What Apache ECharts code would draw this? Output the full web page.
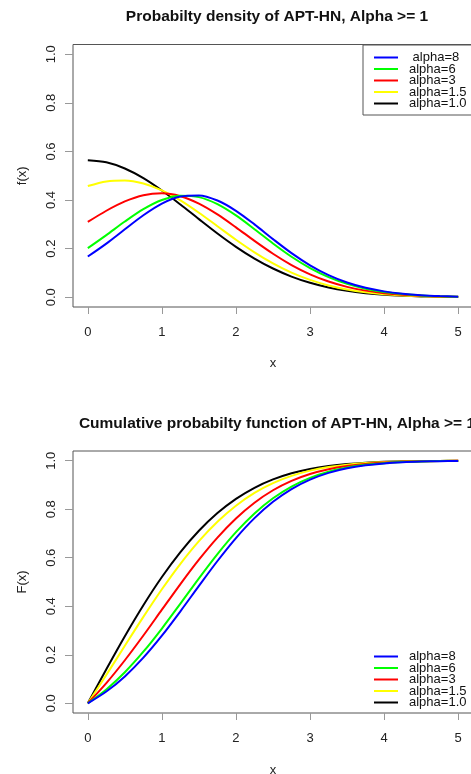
<!DOCTYPE html>
<html>
<head>
<meta charset="utf-8">
<script src="https://cdn.jsdelivr.net/npm/echarts@6/dist/echarts.min.js"></script>
<style>
html,body{margin:0;padding:0;background:#fff;}
#chart{width:471px;height:774px;}
</style>
</head>
<body>
<div id="chart"></div>
<script>
// x grid
var xs = [0,0.25,0.5,0.75,1,1.25,1.5,1.75,2,2.25,2.5,2.75,3,3.25,3.5,3.75,4,4.25,4.5,4.75,5];
var xTicks = [0,1,2,3,4,5];
var yTicks = [0,0.2,0.4,0.6,0.8,1.0];

// density f(x)
var pdf8  = [0.1676,0.2209,0.2797,0.3374,0.3853,0.4144,0.4190,0.3980,0.3557,0.2998,0.2394,0.1817,0.1317,0.0914,0.0610,0.0392,0.0243,0.0146,0.0085,0.0048,0.0026];
var pdf6  = [0.2022,0.2559,0.3116,0.3624,0.4001,0.4179,0.4120,0.3831,0.3367,0.2802,0.2215,0.1669,0.1203,0.0832,0.0554,0.0355,0.0220,0.0132,0.0077,0.0043,0.0023];
var pdf3  = [0.3099,0.3560,0.3944,0.4198,0.4276,0.4159,0.3857,0.3411,0.2878,0.2320,0.1791,0.1326,0.0944,0.0648,0.0429,0.0274,0.0169,0.0101,0.0059,0.0033,0.0018];
var pdf15 = [0.4575,0.4768,0.4808,0.4683,0.4400,0.3986,0.3478,0.2924,0.2369,0.1850,0.1394,0.1014,0.0714,0.0485,0.0319,0.0203,0.0125,0.0075,0.0043,0.0024,0.0013];
var pdf1  = [0.5642,0.5554,0.5300,0.4902,0.4394,0.3818,0.3215,0.2624,0.2076,0.1591,0.1183,0.0852,0.0595,0.0402,0.0264,0.0168,0.0103,0.0062,0.0036,0.0020,0.0011];

// cumulative F(x)
var cdf8  = [0,0.0484,0.1109,0.1882,0.2788,0.3792,0.4840,0.5866,0.6812,0.7633,0.8307,0.8832,0.9222,0.9499,0.9688,0.9811,0.9889,0.9937,0.9965,0.9982,0.9990];
var cdf6  = [0,0.0572,0.1281,0.2126,0.3082,0.4110,0.5152,0.6150,0.7053,0.7825,0.8452,0.8936,0.9293,0.9546,0.9717,0.9829,0.9900,0.9943,0.9969,0.9983,0.9991];
var cdf3  = [0,0.0833,0.1774,0.2794,0.3858,0.4916,0.5921,0.6832,0.7619,0.8269,0.8782,0.9170,0.9452,0.9649,0.9782,0.9869,0.9923,0.9956,0.9976,0.9987,0.9993];
var cdf15 = [0,0.1171,0.2371,0.3561,0.4699,0.5750,0.6685,0.7485,0.8146,0.8673,0.9077,0.9376,0.9591,0.9739,0.9838,0.9903,0.9943,0.9968,0.9982,0.9991,0.9995];
var cdf1  = [0,0.1403,0.2763,0.4041,0.5205,0.6232,0.7112,0.7841,0.8427,0.8884,0.9229,0.9482,0.9661,0.9784,0.9867,0.9920,0.9953,0.9974,0.9985,0.9992,0.9996];

var topNames = [' alpha=8','alpha=6','alpha=3','alpha=1.5','alpha=1.0'];
var botNames = ['alpha=8','alpha=6','alpha=3','alpha=1.5','alpha=1.0'];
var colors = ['#0000FF','#00FF00','#FF0000','#FFFF00','#000000'];
var pdfs = [pdf8,pdf6,pdf3,pdf15,pdf1];
var cdfs = [cdf8,cdf6,cdf3,cdf15,cdf1];

function pairs(ys){ return xs.map(function(x,i){return [x,ys[i]];}); }

var FONT = 'Liberation Sans, Arial, sans-serif';
var chart = echarts.init(document.getElementById('chart'), null, {renderer:'canvas'});

function xAxisDef(gi, gap){
  return {
    type:'value', gridIndex:gi, min:-0.2, max:5.2,
    name:'x', nameLocation:'middle', nameGap:gap,
    nameTextStyle:{color:'#222', fontSize:13, fontFamily:FONT},
    axisLine:{show:false, onZero:false},
    splitLine:{show:false},
    axisTick:{show:true, inside:false, length:7, lineStyle:{color:'#999'}, customValues:xTicks},
    axisLabel:{color:'#222', fontSize:13, fontFamily:FONT, margin:19, customValues:xTicks,
      formatter:function(v){return String(v);}}
  };
}
function yAxisDef(gi, nm){
  return {
    type:'value', gridIndex:gi, min:-0.04, max:1.04,
    name:nm, nameLocation:'middle', nameGap:44, nameRotate:90,
    nameTextStyle:{color:'#222', fontSize:13, fontFamily:FONT},
    axisLine:{show:false, onZero:false},
    splitLine:{show:false},
    axisTick:{show:true, inside:false, length:8, lineStyle:{color:'#999'}, customValues:yTicks},
    axisLabel:{color:'#222', fontSize:13, fontFamily:FONT, margin:15, rotate:90, customValues:yTicks,
      formatter:function(v){return v.toFixed(1);}}
  };
}

var series = [];
for (var i=0;i<5;i++){
  series.push({type:'line', name:topNames[i], xAxisIndex:0, yAxisIndex:0, data:pairs(pdfs[i]),
    showSymbol:false, smooth:0.3, lineStyle:{color:colors[i], width:2}, itemStyle:{color:colors[i]}, z:10-i, animation:false});
}
for (var j=0;j<5;j++){
  series.push({type:'line', name:botNames[j], xAxisIndex:1, yAxisIndex:1, data:pairs(cdfs[j]),
    showSymbol:false, smooth:0.3, lineStyle:{color:colors[j], width:2}, itemStyle:{color:colors[j]}, z:10-j, animation:false});
}

var legendCommon = {
  orient:'vertical', icon:'rect', itemWidth:24, itemHeight:2, itemGap:-1.5,
  textStyle:{color:'#111', fontSize:13, fontFamily:FONT, padding:[0,0,0,6]},
  selectedMode:false
};

chart.setOption({
  animation:false,
  backgroundColor:'#fff',
  title:[
    {text:'Probabilty density of APT-HN, Alpha >= 1', left:272, top:4, textAlign:'center',
      textStyle:{fontSize:15.5, fontWeight:'bold', color:'#111', fontFamily:FONT}},
    {text:'Cumulative probabilty function of APT-HN, Alpha >= 1', left:272, top:411, textAlign:'center',
      textStyle:{fontSize:15.5, fontWeight:'bold', color:'#111', fontFamily:FONT}}
  ],
  grid:[
    {left:73, top:44.5, width:400, height:262.5, show:true, borderColor:'#555', borderWidth:1, backgroundColor:'transparent', containLabel:false, outerBoundsMode:'none'},
    {left:73, top:451, width:400, height:262, show:true, borderColor:'#555', borderWidth:1, backgroundColor:'transparent', containLabel:false, outerBoundsMode:'none'}
  ],
  xAxis:[xAxisDef(0, 50), xAxisDef(1, 51)],
  yAxis:[yAxisDef(0,'f(x)'), yAxisDef(1,'F(x)')],
  legend:[
    Object.assign({}, legendCommon, {data:topNames, left:363, top:45, padding:[6,10,5,11],
      borderColor:'#555', borderWidth:1, backgroundColor:'#fff'}),
    Object.assign({}, legendCommon, {data:botNames, left:363, top:650, padding:[0,10,0,11]})
  ],
  series:series
});
</script>
</body>
</html>
